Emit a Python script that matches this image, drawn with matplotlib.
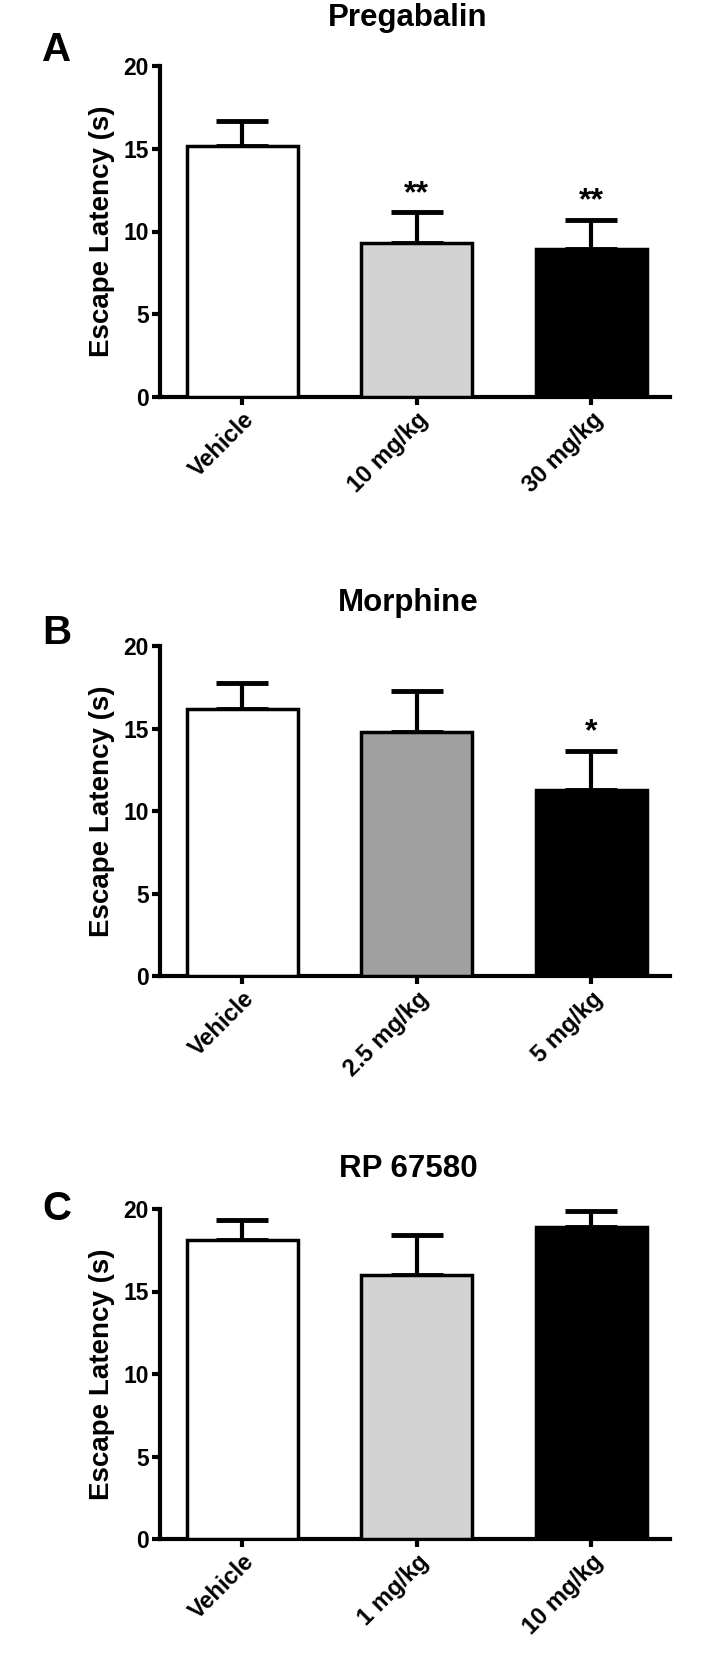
import matplotlib
matplotlib.use("Agg")
import matplotlib.pyplot as plt
import numpy as np

# data
groups_a = ["Vehicle", "10 mg/kg", "30 mg/kg"]
means_a = [15.15, 9.3, 8.95]
sem_a = [1.5, 1.85, 1.75]
stars_a = ["", "**", "**"]
colors_a = ["white", "#d3d3d3", "black"]

groups_b = ["Vehicle", "2.5 mg/kg", "5 mg/kg"]
means_b = [16.2, 14.8, 11.25]
sem_b = [1.55, 2.45, 2.4]
stars_b = ["", "", "*"]
colors_b = ["white", "#a0a0a0", "black"]

groups_c = ["Vehicle", "1 mg/kg", "10 mg/kg"]
means_c = [18.1, 16.0, 18.9]
sem_c = [1.25, 2.45, 1.0]
stars_c = ["", "", ""]
colors_c = ["white", "#d3d3d3", "black"]

titles = ["Pregabalin", "Morphine", "RP 67580"]
letters = ["A", "B", "C"]
yticks = [0, 5, 10, 15, 20]

W, H = 704, 1672
ARIAL = ["Liberation Sans", "DejaVu Sans"]


def draw_panel(fig, rect_px, title, title_pad, letter_dy, letter, groups, means, sems, stars, colors):
    l, t, r, b = rect_px
    ax = fig.add_axes([l / W, 1 - b / H, (r - l) / W, (b - t) / H])
    x = np.arange(len(groups))
    ax.bar(x, means, width=0.635, color=colors, edgecolor="black", linewidth=2.5, zorder=3)
    ax.errorbar(x, means, yerr=[np.zeros(len(sems)), sems], fmt="none", ecolor="black",
                elinewidth=3, capsize=19, capthick=3.5, zorder=2)
    for xi, m, s, st in zip(x, means, sems, stars):
        if st:
            ax.text(xi, m + s + 0.2, st, ha="center", va="bottom", fontsize=23,
                    fontweight="bold", family=ARIAL)
    ax.set_xlim(-0.47, 2.45)
    ax.set_ylim(0, 20)
    ax.set_yticks(yticks)
    ax.set_xticks(x)
    ax.set_xticklabels(groups, rotation=45, ha="right", rotation_mode="anchor",
                       fontsize=17, fontweight="bold", family=ARIAL)
    for lab in ax.get_yticklabels():
        lab.set_fontsize(16.5)
        lab.set_fontweight("bold")
        lab.set_family(ARIAL)
    for side in ["top", "right"]:
        ax.spines[side].set_visible(False)
    for side in ["left", "bottom"]:
        ax.spines[side].set_linewidth(3)
    ax.tick_params(axis="both", width=3, length=6, direction="out", pad=2)
    ax.set_ylabel("Escape Latency (s)", fontsize=20, fontweight="bold", family=ARIAL, labelpad=6)
    ax.set_title(title, fontsize=22.5, fontweight="bold", family=ARIAL, pad=title_pad, x=0.486)
    fig.text(42 / W, 1 - (t - letter_dy) / H, letter, fontsize=29, fontweight="bold",
             family=ARIAL, va="center", ha="left")
    return ax


fig = plt.figure(figsize=(W / 100, H / 100), dpi=100)
draw_panel(fig, (160, 66, 670, 397), titles[0], 29, 16, letters[0], groups_a, means_a, sem_a, stars_a, colors_a)
draw_panel(fig, (160, 646, 670, 976), titles[1], 25, 13, letters[1], groups_b, means_b, sem_b, stars_b, colors_b)
draw_panel(fig, (160, 1209, 670, 1539), titles[2], 23, 0, letters[2], groups_c, means_c, sem_c, stars_c, colors_c)
fig.savefig("out.png", dpi=100)
plt.close(fig)
